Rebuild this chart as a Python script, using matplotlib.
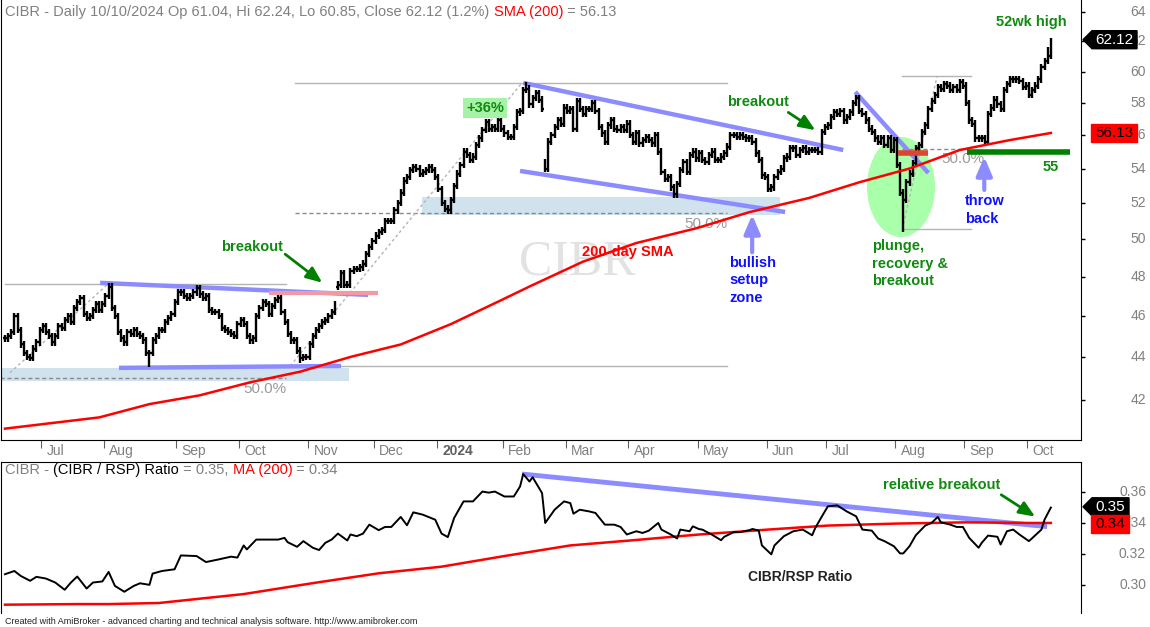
import numpy as np
import pandas as pd
import matplotlib
matplotlib.use('Agg')
import matplotlib.pyplot as plt
from matplotlib.collections import LineCollection
from matplotlib.patches import Ellipse, Rectangle, Polygon
from matplotlib.transforms import blended_transform_factory, IdentityTransform
from matplotlib.ticker import NullLocator

plt.rcParams['font.family'] = ['Liberation Sans', 'DejaVu Sans']

# trading days, 14 Jun 2023 .. 10 Oct 2024
holidays = ['2023-06-19', '2023-07-04', '2023-09-04', '2023-11-23', '2023-12-25',
            '2024-01-01', '2024-01-15', '2024-02-19', '2024-03-29', '2024-05-27',
            '2024-06-19', '2024-07-04', '2024-09-02']
dates = pd.bdate_range('2023-06-14', '2024-10-10', freq='C', holidays=holidays)

# daily closes, month by month
jun23 = [44.9, 45.0, 45.2, 46.0, 45.3, 44.6, 44.2, 44.0, 43.95, 44.4, 44.7, 45.3]
jul23 = [45.5, 45.2, 45.0, 44.7, 45.0, 45.5, 45.4, 45.8, 46.0, 45.7,
         46.4, 46.7, 46.9, 46.1, 45.9, 46.0, 46.3, 46.6, 46.3, 46.6]
aug23 = [47.0, 47.5, 46.4, 46.0, 45.2, 44.9, 44.7, 45.2, 45.1, 45.3,
         45.1, 45.0, 44.8, 44.2, 44.2, 44.8, 45.0, 45.3, 45.3, 45.7,
         45.9, 46.1, 46.7]
sep23 = [47.2, 47.2, 47.0, 46.9, 47.0, 47.2, 47.4, 47.1, 46.9, 47.0,
         46.3, 46.2, 46.2, 46.0, 45.4, 45.3, 45.2, 45.1, 45.0, 45.6]
oct23 = [45.8, 45.6, 45.0, 44.8, 44.9, 46.0, 46.4, 46.7, 46.6, 46.1,
         46.5, 46.8, 46.9, 46.2, 45.7, 45.1, 44.8, 44.8, 44.3, 43.95,
         44.0, 44.0]
nov23 = [44.6, 45.0, 45.3, 45.5, 45.7, 45.8, 46.0, 46.2, 46.6, 47.6,
         48.2, 47.6, 47.6, 48.3, 48.4, 48.4, 48.5, 48.7, 49.2, 49.6, 49.9]
dec23 = [50.2, 50.4, 50.5, 51.0, 51.0, 51.0, 51.6, 52.0, 52.6, 53.3,
         53.5, 53.9, 54.1, 54.0, 53.7, 53.8, 53.9, 54.1, 53.9, 53.5]
jan24 = [52.8, 52.0, 51.7, 51.6, 52.2, 53.0, 53.7, 54.2, 55.0, 54.8,
         54.5, 54.7, 55.4, 55.8, 56.3, 56.8, 56.4, 56.5, 56.4, 56.9, 56.4]
feb24 = [56.1, 55.9, 55.9, 56.5, 57.4, 57.5, 58.8, 58.9, 57.9, 58.3,
         58.6, 58.2, 57.6, 54.0, 55.6, 56.0, 56.5, 56.9, 56.7, 57.7]
mar24 = [57.5, 57.6, 56.4, 58.1, 57.6, 57.3, 57.6, 57.6, 58.0, 57.5,
         56.5, 56.1, 55.6, 56.6, 56.9, 56.4, 56.3, 56.5, 56.3, 56.7]
apr24 = [56.0, 55.6, 56.1, 55.5, 55.7, 55.9, 55.7, 55.5, 56.0, 55.0,
         53.8, 53.4, 53.5, 52.9, 52.5, 53.1, 53.9, 54.4, 53.8, 54.8,
         55.0, 54.6]
may24 = [54.9, 54.5, 54.4, 54.8, 55.0, 54.5, 54.5, 54.7, 54.9, 55.3,
         56.0, 56.0, 55.9, 56.0, 55.9, 55.8, 55.8, 55.6, 54.9, 54.5,
         53.6, 53.5]
jun24 = [52.8, 52.9, 53.5, 53.8, 54.0, 54.6, 54.7, 55.2, 55.2, 54.8,
         55.1, 55.2, 55.0, 55.1, 55.1, 55.1, 55.0, 56.2, 56.5]
jul24 = [56.6, 57.1, 57.4, 57.3, 57.5, 56.9, 57.1, 57.4, 58.0, 58.3,
         57.5, 57.3, 56.9, 56.4, 56.2, 55.8, 55.6, 55.8, 55.4, 55.8,
         55.1, 55.7]
aug24 = [54.2, 52.6, 52.2, 53.2, 53.7, 54.3, 55.2, 55.4, 56.2, 56.6,
         57.6, 58.1, 58.5, 59.0, 58.9, 59.2, 59.1, 58.8, 59.0, 58.8,
         59.3, 59.1]
sep24 = [58.0, 56.9, 56.7, 55.8, 55.8, 55.8, 55.6, 57.3, 57.7, 58.2,
         57.9, 57.6, 58.8, 59.2, 59.5, 59.5, 59.5, 59.4, 59.0, 59.1]
oct24 = [58.5, 58.8, 59.1, 59.5, 60.3, 60.7, 61.4, 62.12]

# a few opens / extremes that stand out on the chart (bar index -> price)
open_gaps = {106: 47.5, 172: 54.4, 333: 61.04}
low_marks = {46: 43.5, 94: 43.7, 141: 51.4, 213: 52.3, 286: 50.4, 333: 60.85}
high_marks = {33: 47.7, 166: 59.3, 333: 62.24}

# 200-day SMA of price, sampled (bar index, value)
sma_idx = [0, 30, 46, 62, 78, 94, 110, 126, 142, 158, 167, 184, 201, 220, 237, 256, 272, 288, 304, 320, 333]
sma_val = [40.7, 41.2, 41.8, 42.2, 42.8, 43.3, 44.0, 44.6, 45.6, 46.8, 47.5, 48.8, 49.8,
           50.6, 51.5, 52.3, 53.2, 54.0, 55.1, 55.7, 56.13]

# CIBR / RSP ratio (bar index, value)
ratio_idx = [0, 3, 5, 8, 10, 13, 16, 19, 21, 23, 26, 28, 31, 33, 35, 38, 41, 43, 46, 47,
             50, 54, 56, 61, 64, 68, 72, 74, 76, 77, 80, 83, 87, 89, 90, 93, 95, 98, 100, 102,
             104, 106, 109, 110, 112, 114, 116, 119, 121, 123, 126, 128, 130, 133, 137, 139, 141, 143, 146, 149,
             152, 154, 156, 159, 162, 164, 165, 167, 168, 171, 172, 175, 178, 180, 181, 183, 186, 188, 191, 194,
             196, 198, 201, 203, 205, 208, 209, 212, 214, 215, 218, 219, 221, 222, 225, 228, 229, 232, 234, 237,
             238, 240, 241, 244, 245, 248, 251, 254, 257, 258, 260, 262, 265, 268, 271, 273, 276, 278, 280, 283,
             285, 286, 288, 290, 293, 295, 297, 298, 301, 303, 305, 307, 310, 311, 313, 316, 317, 319, 321, 323,
             326, 327, 330, 331, 333]
ratio_val = [0.3067, 0.3088, 0.3056, 0.3024, 0.3050, 0.3039, 0.3013, 0.2966, 0.3013, 0.3052,
             0.2974, 0.3013, 0.3020, 0.3082, 0.2991, 0.2953, 0.2991, 0.3008, 0.2998, 0.3071,
             0.3088, 0.3099, 0.3189, 0.3185, 0.3146, 0.3163, 0.3181, 0.3175, 0.3254, 0.3228,
             0.3292, 0.3292, 0.3292, 0.3303, 0.3275, 0.3245, 0.3282, 0.3239, 0.3224, 0.3271,
             0.3292, 0.3331, 0.3286, 0.3325, 0.3314, 0.3331, 0.3389, 0.3353, 0.3374, 0.3374,
             0.3439, 0.3385, 0.3469, 0.3454, 0.3421, 0.3331, 0.3308, 0.3432, 0.3540, 0.3540,
             0.3604, 0.3597, 0.3604, 0.3572, 0.3572, 0.3637, 0.3718, 0.3669, 0.3697, 0.3594,
             0.3400, 0.3486, 0.3540, 0.3529, 0.3460, 0.3486, 0.3475, 0.3465, 0.3389, 0.3389,
             0.3374, 0.3325, 0.3346, 0.3335, 0.3350, 0.3400, 0.3357, 0.3325, 0.3299, 0.3357,
             0.3346, 0.3378, 0.3360, 0.3357, 0.3325, 0.3288, 0.3310, 0.3340, 0.3340, 0.3353,
             0.3361, 0.3350, 0.3254, 0.3196, 0.3254, 0.3314, 0.3346, 0.3357, 0.3320, 0.3368,
             0.3439, 0.3508, 0.3514, 0.3475, 0.3443, 0.3357, 0.3350, 0.3299, 0.3282, 0.3249,
             0.3202, 0.3202, 0.3249, 0.3320, 0.3383, 0.3400, 0.3439, 0.3404, 0.3389, 0.3374,
             0.3374, 0.3303, 0.3239, 0.3271, 0.3318, 0.3310, 0.3260, 0.3346, 0.3357, 0.3325,
             0.3282, 0.3300, 0.3357, 0.3422, 0.3500]

# 200-day MA of the ratio, sampled
rma_idx = [0, 23, 33, 49, 76, 98, 119, 139, 159, 180, 199, 221, 243, 262, 284, 306, 326, 333]
rma_val = [0.2869, 0.2873, 0.2873, 0.2880, 0.2938, 0.3009, 0.3073, 0.3116, 0.3185, 0.3254,
           0.3286, 0.3325, 0.3357, 0.3383, 0.3396, 0.3404, 0.3400, 0.3400]

close = np.array(jun23 + jul23 + aug23 + sep23 + oct23 + nov23 + dec23 + jan24 + feb24
                 + mar24 + apr24 + may24 + jun24 + jul24 + aug24 + sep24 + oct24)
n = len(close)
idx = np.arange(n)
opn = np.r_[close[0], close[:-1]]
for k, v in open_gaps.items():
    opn[k] = v
high = np.maximum(opn, close) * 1.0035
low = np.minimum(opn, close) * 0.9965
for k, v in low_marks.items():
    low[k] = v
for k, v in high_marks.items():
    high[k] = v

GRAY = '#808080'
LAV = '#8c8cff'
ZONE = '#cfe2ee'
GREEN = '#108a10'
BLUE = '#1010ff'

W, H = 1150, 627
fig = plt.figure(figsize=(W / 100, H / 100), dpi=100)


def px_rect(x0, y0, x1, y1):
    return [x0 / W, 1 - y1 / H, (x1 - x0) / W, (y1 - y0) / H]


ax = fig.add_axes(px_rect(1, 0, 1081, 440))
ax2 = fig.add_axes(px_rect(1, 462, 1081, 613), sharex=ax)

# ---------------- price panel ----------------
ax.set_yscale('log')
ax.set_xlim(-1.27, 342.6)
ax.set_ylim(40.2, 64.86)

segs = []
for i in idx:
    segs.append([(i, low[i]), (i, high[i])])
    segs.append([(i - 0.5, opn[i]), (i, opn[i])])
    segs.append([(i, close[i]), (i + 0.5, close[i])])
ax.add_collection(LineCollection(segs, colors='black', linewidths=1.7, zorder=3))

ax.plot(sma_idx, sma_val, color='red', lw=1.8, zorder=4)

# shaded setup zones and the plunge ellipse
ax.add_patch(Rectangle((-1.6, 42.85), 111.2, 0.6, fc=ZONE, ec='none', zorder=0.5))
ax.add_patch(Rectangle((132.8, 51.35), 114.0, 1.0, fc=ZONE, ec='none', zorder=0.5))
ax.add_patch(Ellipse(((901 - 1) / 1080, 1 - 187 / 440), 68 / 1080, 100 / 440,
                     transform=ax.transAxes, fc='#aaffaa', ec='none', zorder=0.6))

# retracement tool lines
gl = dict(color='#b4b4b4', lw=1, zorder=1)
dl = dict(color='#8a8a8a', lw=1, ls=(0, (3, 2)), zorder=1)
dg = dict(color='#b4b4b4', lw=1, ls=(0, (2, 2)), zorder=1)
ax.plot([0, 89.5], [47.63, 47.63], **gl)
ax.plot([-1.6, 89.5], [43.0, 43.0], **dl)
ax.plot([1.6, 32.8], [43.25, 47.63], **dg)
ax.plot([90.8, 230], [43.57, 43.57], **gl)
ax.plot([92.4, 230], [59.27, 59.27], **gl)
ax.plot([92.4, 230], [51.46, 51.46], **dl)
ax.plot([90.8, 164.6], [43.57, 59.27], **dg)
ax.plot([285.7, 307.6], [59.72, 59.72], **gl)
ax.plot([285.7, 307.6], [50.55, 50.55], **gl)
ax.plot([285.7, 307.6], [55.15, 55.15], **dl)
ax.plot([285.7, 296.8], [50.55, 59.72], **dg)
for xi, yv in [(82.8, 42.5), (223.2, 50.85), (305.1, 54.57)]:
    ax.text(xi, yv, '50.0%', fontsize=11, color='#9a9a9a', ha='center', va='center', zorder=2)

# trendlines
tl = dict(color=LAV, lw=3.2, solid_capstyle='butt', zorder=2)
ax.plot([30.3, 115.6], [47.69, 47.07], **tl)
ax.plot([36.3, 107.0], [43.48, 43.57], **tl)
ax.plot([165.0, 266.9], [59.27, 55.1], **tl)
ax.plot([164.0, 248.4], [53.86, 51.51], **tl)
ax.plot([270.7, 294.0], [58.69, 53.74], **tl)
ax.plot([84.1, 118.8], [47.17, 47.17], color='#f29aa4', lw=3, solid_capstyle='butt', zorder=2)
ax.plot([284.4, 294.0], [54.92, 54.92], color='#dd4433', lw=4, solid_capstyle='butt', zorder=4)
ax.plot([306.4, 339.2], [55.0, 55.0], color='#008000', lw=4, solid_capstyle='butt', zorder=4)

# watermark
ax.text(182.2, 48.79, 'CIBR', family=['Liberation Serif', 'DejaVu Serif'], fontsize=36,
        color='#e2e2e2', ha='center', va='center', zorder=0.2)

# labels and arrows
bold = dict(fontsize=10.5, fontweight='bold')
gar = dict(arrowstyle='-|>,head_length=0.6,head_width=0.25', color='#008000', lw=2,
           mutation_scale=16, shrinkA=0, shrinkB=0)
bar_ = dict(arrowstyle='-|>,head_length=0.7,head_width=0.3', color=LAV, lw=3,
            mutation_scale=16, shrinkA=0, shrinkB=0)
ax.text(78.7, 49.6, 'breakout', color=GREEN, ha='center', va='center', **bold)
ax.annotate('', xy=(101.0, 47.7), xytext=(89.2, 49.2), arrowprops=gar, zorder=5)
ax.text(239.8, 58.05, 'breakout', color=GREEN, ha='center', va='center', **bold)
ax.annotate('', xy=(258.0, 56.3), xytext=(249.4, 57.4), arrowprops=gar, zorder=5)
ax.text(326.8, 63.3, '52wk high', color=GREEN, ha='center', va='center', **bold)
ax.text(333.1, 54.1, '55', color=GREEN, ha='center', va='center', **bold)
ax.text(276.1, 50.0, 'plunge,\nrecovery &\nbreakout', color=GREEN, ha='left', va='top',
        linespacing=1.3, **bold)
ax.text(152.9, 57.7, '+36%', color=GREEN, ha='center', va='center',
        bbox=dict(boxstyle='square,pad=0.2', fc='#a6f2a6', ec='none'), zorder=5, **bold)
ax.text(198.4, 49.3, '200-day SMA', color='red', ha='center', va='center', **bold)
ax.text(230.6, 49.1, 'bullish\nsetup\nzone', color=BLUE, ha='left', va='top',
        linespacing=1.3, **bold)
ax.annotate('', xy=(237.9, 51.35), xytext=(237.9, 49.3), arrowprops=bar_, zorder=5)
ax.text(305.7, 52.5, 'throw\nback', color=BLUE, ha='left', va='top', linespacing=1.3, **bold)
ax.annotate('', xy=(311.8, 54.69), xytext=(311.8, 52.76), arrowprops=bar_, zorder=5)

# ---------------- ratio panel ----------------
ax2.set_ylim(0.2815, 0.3796)
ax2.plot([164.6, 331.8], [0.3718, 0.3376], color=LAV, lw=3.5, solid_capstyle='butt', zorder=1)
ax2.plot(rma_idx, rma_val, color='red', lw=1.8, zorder=2)
ax2.plot(ratio_idx, ratio_val, color='black', lw=1.4, zorder=3)
ax2.text(279.6, 0.3647, 'relative breakout', color=GREEN, ha='left', va='center', **bold)
ax2.annotate('', xy=(328.0, 0.3441), xytext=(317.2, 0.3583), arrowprops=gar, zorder=5)
ax2.text(253.2, 0.3047, 'CIBR/RSP Ratio', color='#222222', ha='center', va='center',
         fontsize=10, fontweight='bold')

# ---------------- axes cosmetics ----------------
for a in (ax, ax2):
    a.yaxis.tick_right()
    a.yaxis.set_minor_locator(NullLocator())
    a.tick_params(axis='y', which='both', direction='out', length=3, width=1,
                  labelright=False, labelleft=False)
ax.spines['top'].set_visible(False)
ax2.spines['bottom'].set_visible(False)

price_ticks = list(range(42, 65, 2))
ax.set_yticks(price_ticks)
ax.yaxis.set_minor_locator(NullLocator())
ax.tick_params(axis='y', which='both', labelright=False)
ratio_ticks = [0.30, 0.32, 0.34, 0.36]
ax2.set_yticks(ratio_ticks)

bt = blended_transform_factory(ax.transAxes, ax.transData)
for v in price_ticks:
    ax.text(1.0602, v, str(v), transform=bt, ha='right', va='center', color=GRAY, fontsize=10)
bt2 = blended_transform_factory(ax2.transAxes, ax2.transData)
for v in ratio_ticks:
    ax2.text(1.0602, v, f'{v:.2f}', transform=bt2, ha='right', va='center', color=GRAY, fontsize=10)

month_starts = [i for i in range(1, n) if dates[i].month != dates[i - 1].month]
ax.set_xticks([m - 0.5 for m in month_starts])
ax.tick_params(axis='x', direction='out', length=6, color='#606060', labelbottom=False)
ax2.tick_params(axis='x', length=0, labelbottom=False)
bx = blended_transform_factory(ax.transData, ax.transAxes)
for m in month_starts:
    d = dates[m]
    if d.month == 1:
        ax.text(m + 1.2, -0.025, str(d.year), transform=bx, ha='left', va='center',
                color='#606060', fontsize=10, fontweight='bold')
    else:
        ax.text(m + 1.2, -0.025, d.strftime('%b'), transform=bx, ha='left', va='center',
                color=GRAY, fontsize=10)


def rainbow(a, x, y, parts, size):
    t = a.text(x, y, parts[0][0], color=parts[0][1], transform=a.transAxes,
               fontsize=size, va='bottom', zorder=6)
    for s, c in parts[1:]:
        t = a.annotate(s, xy=(1, 0), xycoords=t, color=c, fontsize=size, va='bottom', zorder=6)


rainbow(ax, 0.004, 0.957,
        [('CIBR - Daily 10/10/2024 Op 61.04, Hi 62.24, Lo 60.85, Close 62.12 (1.2%) ', GRAY),
         ('SMA (200)', 'red'), (' = 56.13', GRAY)], 10.5)
rainbow(ax2, 0.004, 0.90,
        [('CIBR - ', GRAY), ('(CIBR / RSP) Ratio', 'black'), (' = 0.35, ', GRAY),
         ('MA (200)', 'red'), (' = 0.34', GRAY)], 10.5)


def value_tag(a, val, text, fc, tc, arrow):
    yd = a.transData.transform((0, val))[1]
    x0 = a.transAxes.transform((1, 0))[0]
    h = 9
    right = x0 + 56 if a is ax else x0 + 48
    if arrow:
        pts = [(x0 + 2, yd), (x0 + 11, yd + h), (right, yd + h), (right, yd - h), (x0 + 11, yd - h)]
    else:
        pts = [(x0 + 10, yd + h), (right, yd + h), (right, yd - h), (x0 + 10, yd - h)]
    fig.add_artist(Polygon(pts, closed=True, transform=IdentityTransform(), fc=fc, ec=fc, zorder=10))
    fig.text((x0 + 11 + right) / 2, yd, text, transform=IdentityTransform(), ha='center',
             va='center', color=tc, fontsize=11, zorder=11)


value_tag(ax, 62.12, '62.12', 'black', 'white', True)
value_tag(ax, 56.13, '56.13', '#ff0000', 'black', False)
value_tag(ax2, 0.3505, '0.35', 'black', 'white', True)
value_tag(ax2, 0.3390, '0.34', '#ff0000', 'black', False)

fig.text(5 / W, 1 - 622 / H,
         'Created with AmiBroker - advanced charting and technical analysis software. http://www.amibroker.com',
         fontsize=6.5, color='#222222', va='center', ha='left')

fig.savefig('out.png', dpi=100)
